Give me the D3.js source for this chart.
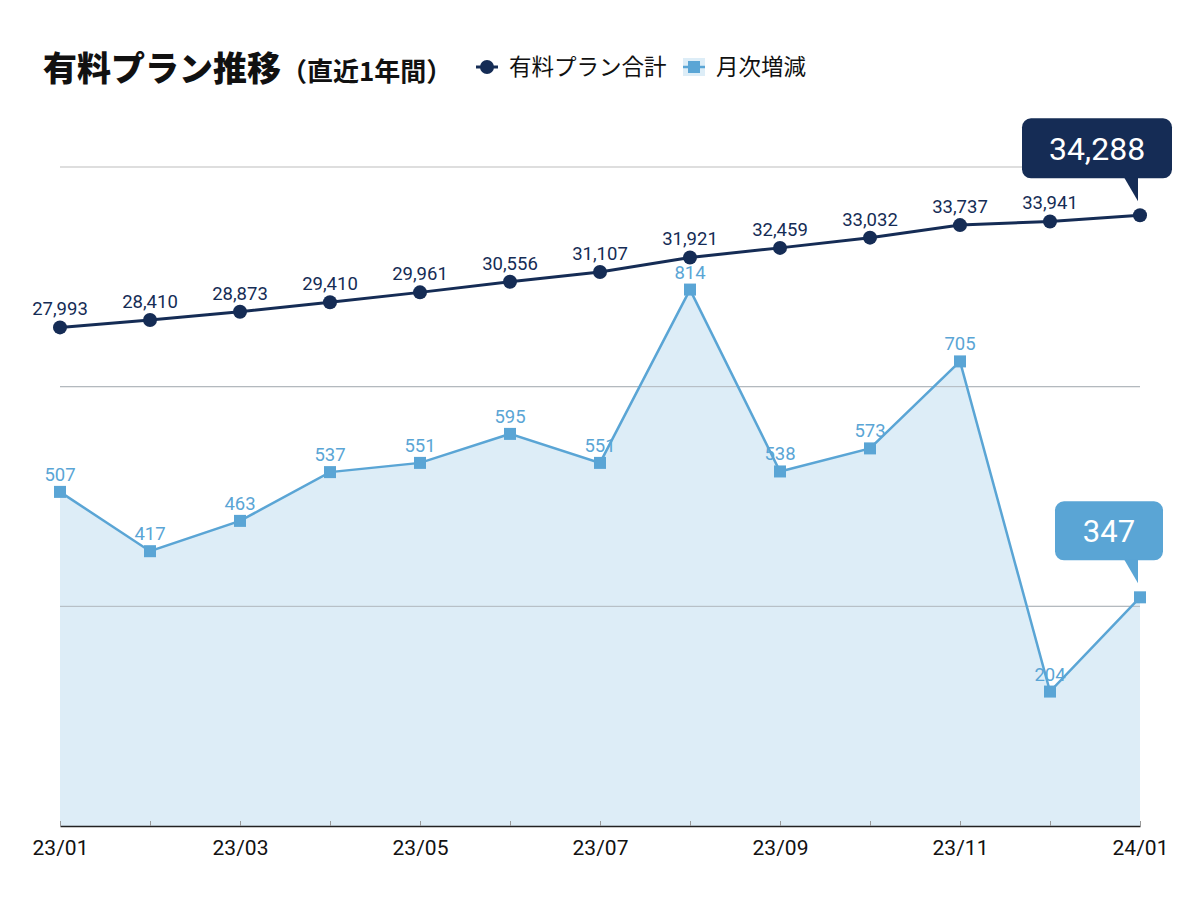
<!DOCTYPE html>
<html>
<head>
<meta charset="utf-8">
<script src="https://cdn.jsdelivr.net/npm/d3@7"></script>
<style>
body { margin: 0; background: #fff; }
svg { font-family: "Noto Sans CJK JP", "Noto Sans", sans-serif; }
</style>
</head>
<body>
<svg id="chart" width="1200" height="900"></svg>
<script>
var months = ["23/01","23/02","23/03","23/04","23/05","23/06","23/07","23/08","23/09","23/10","23/11","23/12","24/01"];
var totals = [27993, 28410, 28873, 29410, 29961, 30556, 31107, 31921, 32459, 33032, 33737, 33941, 34288];
var changes = [507, 417, 463, 537, 551, 595, 551, 814, 538, 573, 705, 204, 347];
var totalDomain = [0, 37000];
var changeDomain = [0, 1000];

var dark = "#152c55";
var light = "#5aa5d5";
var fill = "#ddedf7";
var numFont = "Roboto, 'Noto Sans', sans-serif";

var svg = d3.select("#chart");
var plotLeft = 60, plotRight = 1140, plotTop = 167, plotBottom = 826;

var x = d3.scalePoint().domain(months).range([plotLeft, plotRight]);
var yTotal = d3.scaleLinear().domain(totalDomain).range([plotBottom, plotTop]);
var yChange = d3.scaleLinear().domain(changeDomain).range([plotBottom, plotTop]);

// gridlines (3 splits)
var grid = [1, 2, 3].map(function(i){ return changeDomain[1] * i / 3; });
svg.append("g").selectAll("line").data(grid).enter().append("line")
	.attr("x1", plotLeft).attr("x2", plotRight)
	.attr("y1", function(d){ return yChange(d); })
	.attr("y2", function(d){ return yChange(d); })
	.attr("stroke", "#bdbdbd").attr("stroke-width", 1);

// area for monthly change
var area = d3.area()
	.x(function(d, i){ return x(months[i]); })
	.y0(plotBottom)
	.y1(function(d){ return yChange(d); });
svg.append("path").datum(changes).attr("d", area).attr("fill", fill);

// gridlines again over the area
svg.append("g").selectAll("line").data(grid.slice(0, 2)).enter().append("line")
	.attr("x1", plotLeft).attr("x2", plotRight)
	.attr("y1", function(d){ return yChange(d); })
	.attr("y2", function(d){ return yChange(d); })
	.attr("stroke", "#b0b7bd").attr("stroke-width", 1);

// x axis
var xAxis = d3.axisBottom(x).tickSizeInner(-5).tickSizeOuter(0).tickPadding(14)
	.tickFormat(function(d, i){ return i % 2 === 0 ? d : ""; });
var ax = svg.append("g").attr("transform", "translate(0," + plotBottom + ")").call(xAxis);
ax.select(".domain").attr("stroke", "#222").attr("stroke-width", 1.5);
ax.selectAll(".tick line").attr("stroke", "#999");
ax.selectAll("text").attr("font-size", 21).attr("fill", "#111").attr("font-family", numFont);

// monthly change line
var changeLine = d3.line()
	.x(function(d, i){ return x(months[i]); })
	.y(function(d){ return yChange(d); });
svg.append("path").datum(changes).attr("d", changeLine)
	.attr("fill", "none").attr("stroke", light).attr("stroke-width", 2.5);

svg.append("g").selectAll("rect").data(changes).enter().append("rect")
	.attr("x", function(d, i){ return x(months[i]) - 6; })
	.attr("y", function(d){ return yChange(d) - 6; })
	.attr("width", 12).attr("height", 12)
	.attr("fill", light);

svg.append("g").selectAll("text").data(changes.slice(0, 12)).enter().append("text")
	.attr("x", function(d, i){ return x(months[i]); })
	.attr("y", function(d){ return yChange(d) - 11; })
	.attr("text-anchor", "middle")
	.attr("font-family", numFont).attr("font-size", 18.5)
	.attr("fill", light)
	.text(function(d){ return d3.format(",")(d); });

// total line
var totalLine = d3.line()
	.x(function(d, i){ return x(months[i]); })
	.y(function(d){ return yTotal(d); });
svg.append("path").datum(totals).attr("d", totalLine)
	.attr("fill", "none").attr("stroke", dark).attr("stroke-width", 3);

svg.append("g").selectAll("circle").data(totals).enter().append("circle")
	.attr("cx", function(d, i){ return x(months[i]); })
	.attr("cy", function(d){ return yTotal(d); })
	.attr("r", 7).attr("fill", dark);

svg.append("g").selectAll("text").data(totals.slice(0, 12)).enter().append("text")
	.attr("x", function(d, i){ return x(months[i]); })
	.attr("y", function(d){ return yTotal(d) - 12; })
	.attr("text-anchor", "middle")
	.attr("font-family", numFont).attr("font-size", 18.5)
	.attr("fill", dark)
	.text(function(d){ return d3.format(",")(d); });

// callouts for the last value
function callout(px, py, w, h, offX, color, label, size){
	var bx = px - offX, by = py - h - 37;
	var g = svg.append("g");
	g.append("rect").attr("x", bx).attr("y", by).attr("width", w).attr("height", h)
		.attr("rx", 9).attr("fill", color);
	g.append("path")
		.attr("d", "M" + (px - 16) + "," + (by + h - 1) + " L" + (px - 2) + "," + (py - 14) + " L" + (px - 2) + "," + (by + h - 1) + " Z")
		.attr("fill", color);
	g.append("text").attr("x", bx + w / 2).attr("y", by + h / 2 + size * 0.36)
		.attr("text-anchor", "middle").attr("font-family", numFont)
		.attr("font-size", size).attr("fill", "#fff").text(label);
}
var last = months.length - 1;
callout(x(months[last]), yTotal(totals[last]), 150, 60, 118, dark, d3.format(",")(totals[last]), 32);
callout(x(months[last]), yChange(changes[last]), 108, 59, 85, light, d3.format(",")(changes[last]), 31);

// title
var title = svg.append("text").attr("x", 43).attr("y", 81).attr("fill", "#111");
title.append("tspan").attr("font-size", 34).attr("font-weight", 900).text("有料プラン推移");
title.append("tspan").attr("font-size", 26).attr("font-weight", "bold").text("（直近1年間）");

// legend
var lg = svg.append("g");
lg.append("line").attr("x1", 476).attr("x2", 498).attr("y1", 67).attr("y2", 67)
	.attr("stroke", dark).attr("stroke-width", 3);
lg.append("circle").attr("cx", 487).attr("cy", 67).attr("r", 7).attr("fill", dark);
lg.append("text").attr("x", 509).attr("y", 75).attr("font-size", 22.5).attr("fill", "#111").text("有料プラン合計");
lg.append("rect").attr("x", 683).attr("y", 58).attr("width", 22).attr("height", 18).attr("fill", fill);
lg.append("line").attr("x1", 683).attr("x2", 705).attr("y1", 67).attr("y2", 67)
	.attr("stroke", light).attr("stroke-width", 2.5);
lg.append("rect").attr("x", 688).attr("y", 61).attr("width", 12).attr("height", 12).attr("fill", light);
lg.append("text").attr("x", 716).attr("y", 75).attr("font-size", 22.5).attr("fill", "#111").text("月次増減");
</script>
</body>
</html>
